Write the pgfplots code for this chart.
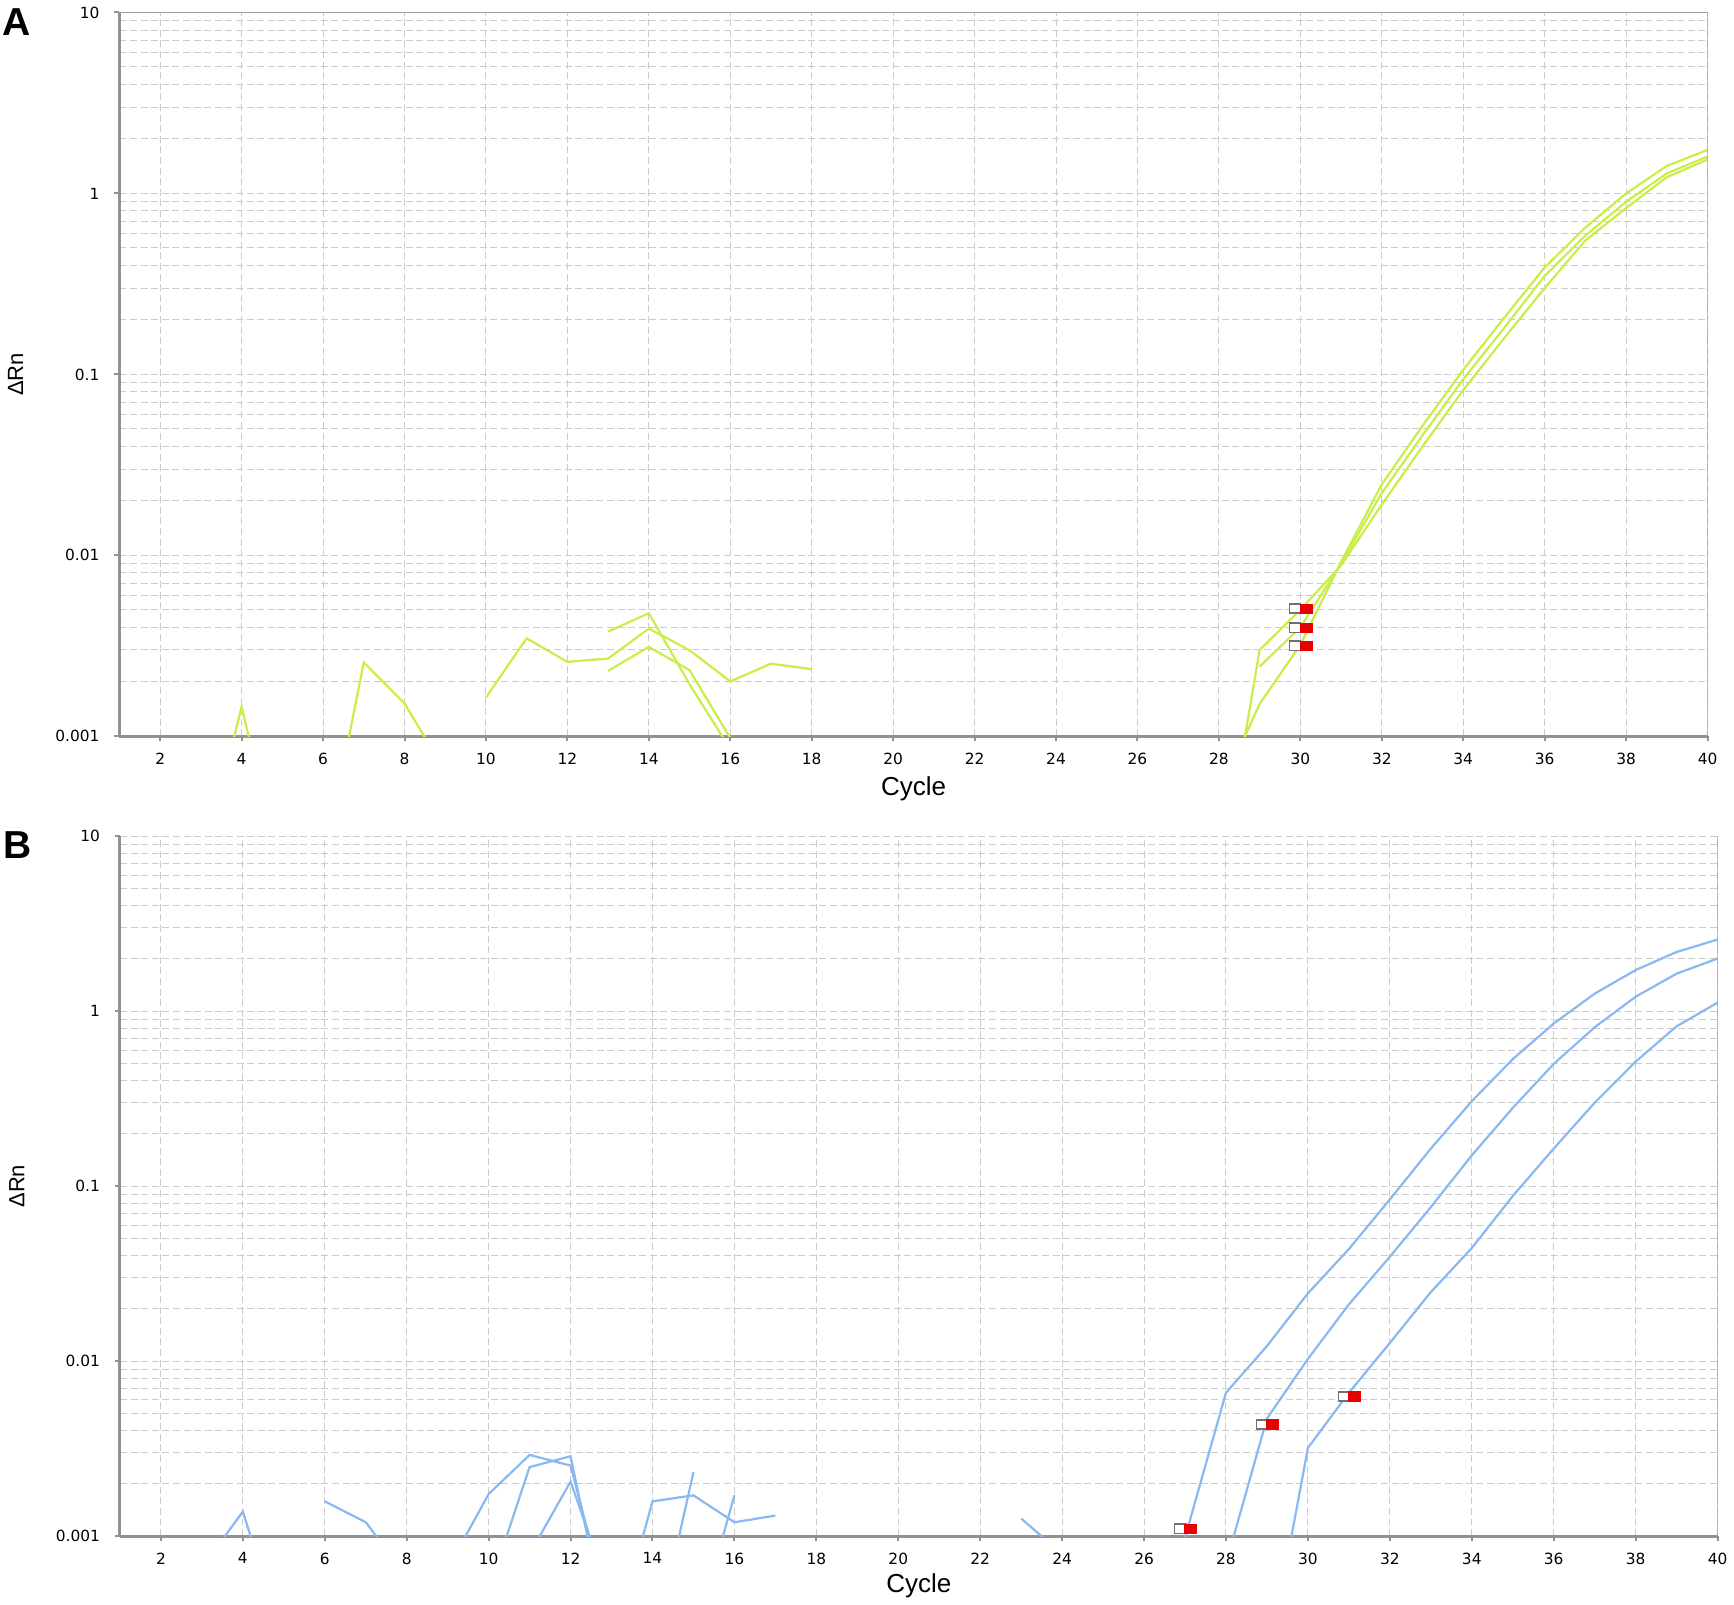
\documentclass[border=0pt]{standalone}
\usepackage{pgfplots}
\pgfplotsset{compat=1.18}
\usepackage{fontspec}
\setmainfont{Liberation Sans}
\newfontfamily\tickfont{DejaVu Sans}

\definecolor{limeline}{RGB}{200,238,72}
\definecolor{blueline}{RGB}{138,184,240}
\definecolor{gridgray}{RGB}{204,204,204}
\definecolor{spine}{RGB}{145,145,145}
\definecolor{ctred}{RGB}{232,0,0}
\definecolor{ctgray}{RGB}{112,112,112}

\begin{document}
\begin{tikzpicture}
\path (0,0) rectangle (867pt,-800.5pt);

% ---- panel A ----
\begin{axis}[
    at={(59.75pt,-5.5pt)}, anchor=north west,
    scale only axis, width=794.25pt, height=362pt,
    ymode=log,
    xmin=1, xmax=40, ymin=0.001, ymax=10,
    xtick={2,4,...,40},
    ytick={0.001,0.01,0.1,1,10},
    yticklabels={0.001,0.01,0.1,1,10},
    minor ytick={0.002,0.003,0.004,0.005,0.006,0.007,0.008,0.009,
                 0.02,0.03,0.04,0.05,0.06,0.07,0.08,0.09,
                 0.2,0.3,0.4,0.5,0.6,0.7,0.8,0.9,
                 2,3,4,5,6,7,8,9},
    grid=both,
    major grid style={gridgray, dash pattern=on 3.5pt off 1.8pt, line width=0.5pt},
    minor grid style={gridgray, dash pattern=on 3.5pt off 1.8pt, line width=0.5pt},
    axis x line*=bottom, axis y line*=left,
    axis line style={spine, line width=1.5pt},
    tick style={spine, line width=1pt},
    tick align=outside, major tick length=2.5pt, minor tick length=0pt,
    ticklabel style={font=\tickfont\fontsize{7.7}{9}\selectfont, text=black},
    xticklabel style={yshift=-2.3pt},
    yticklabel style={xshift=-4pt},
    /pgf/number format/assume math mode=true,
    xlabel={Cycle}, ylabel={ΔRn},
    xlabel style={font=\fontsize{13}{15}\selectfont, at={(axis description cs:0.5,-0.072)}, anchor=center},
    ylabel style={font=\fontsize{11}{13}\selectfont, at={(axis description cs:-0.0655,0.5)}, anchor=center},
    unbounded coords=jump,
  ]
\addplot[limeline, line width=1.1pt] coordinates {
 (3,0.00018) (4,0.00146) (5,0.00016) (6,0.00019) (7,0.00256) (8,0.00152) (9,0.00064)
 (10,nan) (12,nan) (13,0.00379) (14,0.00479) (15,0.00194) (16,0.00085) (17,nan)
 (27,nan) (28,0.00014) (29,0.0030) (30,0.0050) (31,0.0088) (32,0.0191) (33,0.040)
 (34,0.082) (35,0.158) (36,0.30) (37,0.55) (38,0.83) (39,1.23) (40,1.54)
};
\addplot[limeline, line width=1.1pt] coordinates {
 (10,0.00164) (11,0.00348) (12,0.00258) (13,0.00269) (14,0.00394) (15,0.00299)
 (16,0.00201) (17,0.00252) (18,0.00235) (19,nan) (28,nan)
 (29,0.00243) (30,0.0040) (31,0.0090) (32,0.0221) (33,0.046) (34,0.094)
 (35,0.180) (36,0.35) (37,0.585) (38,0.90) (39,1.29) (40,1.60)
};
\addplot[limeline, line width=1.1pt] coordinates {
 (13,0.0023) (14,0.00312) (15,0.00232) (16,0.00098) (17,nan) (27,nan)
 (28,0.00048) (29,0.00151) (30,0.0032) (31,0.0092) (32,0.0247) (33,0.052)
 (34,0.106) (35,0.205) (36,0.39) (37,0.648) (38,1.0) (39,1.42) (40,1.74)
};
% threshold markers
\addplot[only marks, mark=square*, mark size=2.3pt,
  mark options={xscale=1.2, fill=white, draw=ctgray, line width=0.9pt}]
  coordinates {(29.87,0.00507) (29.87,0.00397) (29.87,0.00316)};
\addplot[only marks, mark=square*, mark size=2.4pt,
  mark options={xscale=1.25, fill=ctred, draw=ctred}]
  coordinates {(30.14,0.00507) (30.14,0.00397) (30.14,0.00316)};
\draw[spine!85, line width=0.9pt] (rel axis cs:0,1) -- (rel axis cs:1,1) -- (rel axis cs:1,0);
\end{axis}

% ---- panel B ----
\begin{axis}[
    at={(60pt,-417.5pt)}, anchor=north west,
    scale only axis, width=799pt, height=350pt,
    ymode=log,
    xmin=1, xmax=40, ymin=0.001, ymax=10,
    xtick={2,4,...,40},
    ytick={0.001,0.01,0.1,1,10},
    yticklabels={0.001,0.01,0.1,1,10},
    minor ytick={0.002,0.003,0.004,0.005,0.006,0.007,0.008,0.009,
                 0.02,0.03,0.04,0.05,0.06,0.07,0.08,0.09,
                 0.2,0.3,0.4,0.5,0.6,0.7,0.8,0.9,
                 2,3,4,5,6,7,8,9},
    grid=both,
    major grid style={gridgray, dash pattern=on 3.5pt off 1.8pt, line width=0.5pt},
    minor grid style={gridgray, dash pattern=on 3.5pt off 1.8pt, line width=0.5pt},
    axis x line*=bottom, axis y line*=left,
    axis line style={spine, line width=1.5pt},
    tick style={spine, line width=1pt},
    tick align=outside, major tick length=2.5pt, minor tick length=0pt,
    ticklabel style={font=\tickfont\fontsize{7.7}{9}\selectfont, text=black},
    xticklabel style={yshift=-2.3pt},
    yticklabel style={xshift=-4pt},
    /pgf/number format/assume math mode=true,
    xlabel={Cycle}, ylabel={ΔRn},
    xlabel style={font=\fontsize{13}{15}\selectfont, at={(axis description cs:0.5,-0.0714)}, anchor=center},
    ylabel style={font=\fontsize{11}{13}\selectfont, at={(axis description cs:-0.0645,0.5)}, anchor=center},
    unbounded coords=jump,
  ]
\addplot[blueline, line width=1.1pt] coordinates {
 (3,0.00066) (4,0.00138) (5,0.00025) (6,nan) (8,nan)
 (9,0.00065) (10,0.00174) (11,0.00291) (12,0.00253) (13,0.00032) (14,nan)
 (15,0.00025) (16,0.00171) (17,nan) (22,nan) (23,0.00126) (24,0.00079) (25,nan) (26,nan)
 (27,0.00098) (28,0.0066) (29,0.0122) (30,0.0244) (31,0.0437) (32,0.084) (33,0.164)
 (34,0.306) (35,0.532) (36,0.85) (37,1.26) (38,1.72) (39,2.18) (40,2.57)
};
\addplot[blueline, line width=1.1pt] coordinates {
 (6,0.00158) (7,0.00120) (8,0.00059) (9,nan)
 (10,0.00049) (11,0.00248) (12,0.00286) (13,0.00022) (14,0.00158) (15,0.00171)
 (16,0.00120) (17,0.00131) (18,nan) (27,nan)
 (28,0.000695) (29,0.0047) (30,0.0103) (31,0.0211) (32,0.0395) (33,0.0759)
 (34,0.150) (35,0.28) (36,0.50) (37,0.81) (38,1.21) (39,1.64) (40,2.0)
};
\addplot[blueline, line width=1.1pt] coordinates {
 (11,0.00079) (12,0.00205) (13,0.00044) (14,0.00021) (15,0.00232) (16,nan) (28,nan)
 (29,0.000176) (30,0.00319) (31,0.0066) (32,0.0127) (33,0.0248) (34,0.0443)
 (35,0.0878) (36,0.164) (37,0.30) (38,0.515) (39,0.82) (40,1.12)
};
\addplot[only marks, mark=square*, mark size=2.3pt,
  mark options={xscale=1.2, fill=white, draw=ctgray, line width=0.9pt}]
  coordinates {(26.88,0.0011) (28.88,0.00434) (30.88,0.00628)};
\addplot[only marks, mark=square*, mark size=2.4pt,
  mark options={xscale=1.25, fill=ctred, draw=ctred}]
  coordinates {(27.14,0.0011) (29.14,0.00434) (31.13,0.00628)};
\draw[spine!85, line width=0.9pt] (rel axis cs:1,0) -- (rel axis cs:1,1);
\end{axis}

\node[anchor=north west, inner sep=0pt, font=\bfseries\fontsize{19.5}{22}\selectfont] at (1pt,-3.5pt) {A};
\node[anchor=north west, inner sep=0pt, font=\bfseries\fontsize{19.5}{22}\selectfont] at (1.5pt,-415pt) {B};
\end{tikzpicture}
\end{document}
